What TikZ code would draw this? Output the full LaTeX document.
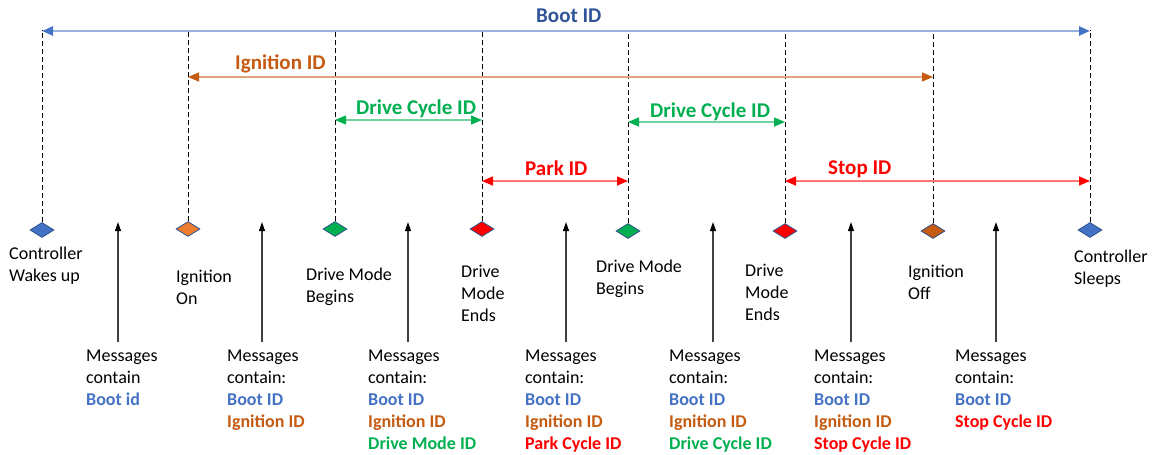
\documentclass[tikz,border=0pt]{standalone}
\usepackage{fontspec}
\setmainfont{Carlito}
\usetikzlibrary{shapes.geometric, arrows.meta}
\definecolor{bootblue}{HTML}{4472C4}
\definecolor{bootdark}{HTML}{2F5597}
\definecolor{ignorange}{HTML}{ED7D31}
\definecolor{ignbrown}{HTML}{C55A11}
\definecolor{drivegreen}{HTML}{00B050}
\definecolor{stopred}{HTML}{FF0000}
\definecolor{edgeblue}{HTML}{2F528F}
\tikzset{event/.style={diamond,draw=edgeblue,line width=0.8pt,minimum width=24pt,minimum height=15pt,inner sep=0pt},
         caption/.style={align=left,anchor=base west,inner sep=0pt,font=\fontsize{18}{22}\selectfont},
         idlabel/.style={anchor=base west,inner sep=0pt,font=\fontsize{21}{25}\selectfont\bfseries},
         idspan/.style={draw=#1!55,line width=1.4pt,
                        {Triangle[length=11pt,width=9pt,color=#1]}-{Triangle[length=11pt,width=9pt,color=#1]}},
         guide/.style={dash pattern=on 5pt off 3pt,line width=1pt},
         msg/.style={draw=black!75,line width=1.2pt,-{Triangle[length=9pt,width=6pt,color=black]}},
        }
\newcommand{\bootid}{\textcolor{bootblue}{\textbf{Boot ID}}}
\newcommand{\ignid}{\textcolor{ignbrown}{\textbf{Ignition ID}}}

\begin{document}
\begin{tikzpicture}[x=1pt,y=-1pt]
        \useasboundingbox (0,0) rectangle (1154,455);

        \node[event, fill=bootblue](d1)at(42,230){};
        \node[event, fill=ignorange](d2)at(188,229){};
        \node[event, fill=drivegreen](d3)at(335,229){};
        \node[event, fill=stopred](d4)at(482,229){};
        \node[event, fill=drivegreen](d5)at(628,231){};
        \node[event, fill=stopred](d6)at(785,231){};
        \node[event, fill=ignbrown](d7)at(933,231){};
        \node[event, fill=bootblue](d8)at(1090,230){};

        \coordinate(top)at(0,30);
        \foreach \i in {1,...,8}
            \draw[guide](d\i.north)--(d\i.north |- top);

        % id spans
        \coordinate(hboot)at(0,31);
        \coordinate(hign)at(0,77);
        \coordinate(hdrive)at(0,120);
        \coordinate(hdrivetwo)at(0,122);
        \coordinate(hpark)at(0,181);
        \draw[idspan=bootblue, line width=2.4pt](d1 |- hboot)--(d8 |- hboot);
        \draw[idspan=ignbrown](d2 |- hign)--(d7 |- hign);
        \draw[idspan=drivegreen](d3 |- hdrive)--(d4 |- hdrive);
        \draw[idspan=drivegreen](d5 |- hdrivetwo)--(d6 |- hdrivetwo);
        \draw[idspan=stopred](d4 |- hpark)--(d5 |- hpark);
        \draw[idspan=stopred](d6 |- hpark)--(d8 |- hpark);

        \node[idlabel, text=bootdark](lboot)at(536,23){Boot ID};
        \node[idlabel, text=ignbrown](lign)at(235,69){Ignition ID};
        \node[idlabel, text=drivegreen](ldrive)at(356,114){Drive Cycle ID};
        \node[idlabel, text=drivegreen](ldrivetwo)at(650,117){Drive Cycle ID};
        \node[idlabel, text=stopred](lpark)at(525,175){Park ID};
        \node[idlabel, text=stopred](lstop)at(828,174){Stop ID};

        % events (placed at the baseline of their last line)
        \node[caption](e1)at(9,281){Controller\\Wakes up};
        \node[caption](e2)at(176,304){Ignition\\On};
        \node[caption](e3)at(306,302){Drive Mode\\Begins};
        \node[caption](e4)at(461,321){Drive\\Mode\\Ends};
        \node[caption](e5)at(596,294){Drive Mode\\Begins};
        \node[caption](e6)at(745,320){Drive\\Mode\\Ends};
        \node[caption](e7)at(908,299){Ignition\\Off};
        \node[caption](e8)at(1074,284){Controller\\Sleeps};

        % messages
        \node[caption](m1)at(86,405){Messages\\contain\\\textcolor{bootblue}{\textbf{Boot id}}};
        \node[caption](m2)at(227,427){Messages\\contain:\\\bootid\\\ignid};
        \node[caption](m3)at(368,449){Messages\\contain:\\\bootid\\\ignid\\\textcolor{drivegreen}{\textbf{Drive Mode ID}}};
        \node[caption](m4)at(525,449){Messages\\contain:\\\bootid\\\ignid\\\textcolor{stopred}{\textbf{Park Cycle ID}}};
        \node[caption](m5)at(669,449){Messages\\contain:\\\bootid\\\ignid\\\textcolor{drivegreen}{\textbf{Drive Cycle ID}}};
        \node[caption](m6)at(814,449){Messages\\contain:\\\bootid\\\ignid\\\textcolor{stopred}{\textbf{Stop Cycle ID}}};
        \node[caption](m7)at(955,427){Messages\\contain:\\\bootid\\\textcolor{stopred}{\textbf{Stop Cycle ID}}};

        \foreach \m/\dx in {1/32, 2/35, 3/40, 4/41, 5/44, 6/37, 7/41}
            \draw[msg]([xshift=\dx pt, yshift=7pt]m\m.north west)--([xshift=\dx pt]m\m.north west |- d1.north);
    \end{tikzpicture}
\end{document}
